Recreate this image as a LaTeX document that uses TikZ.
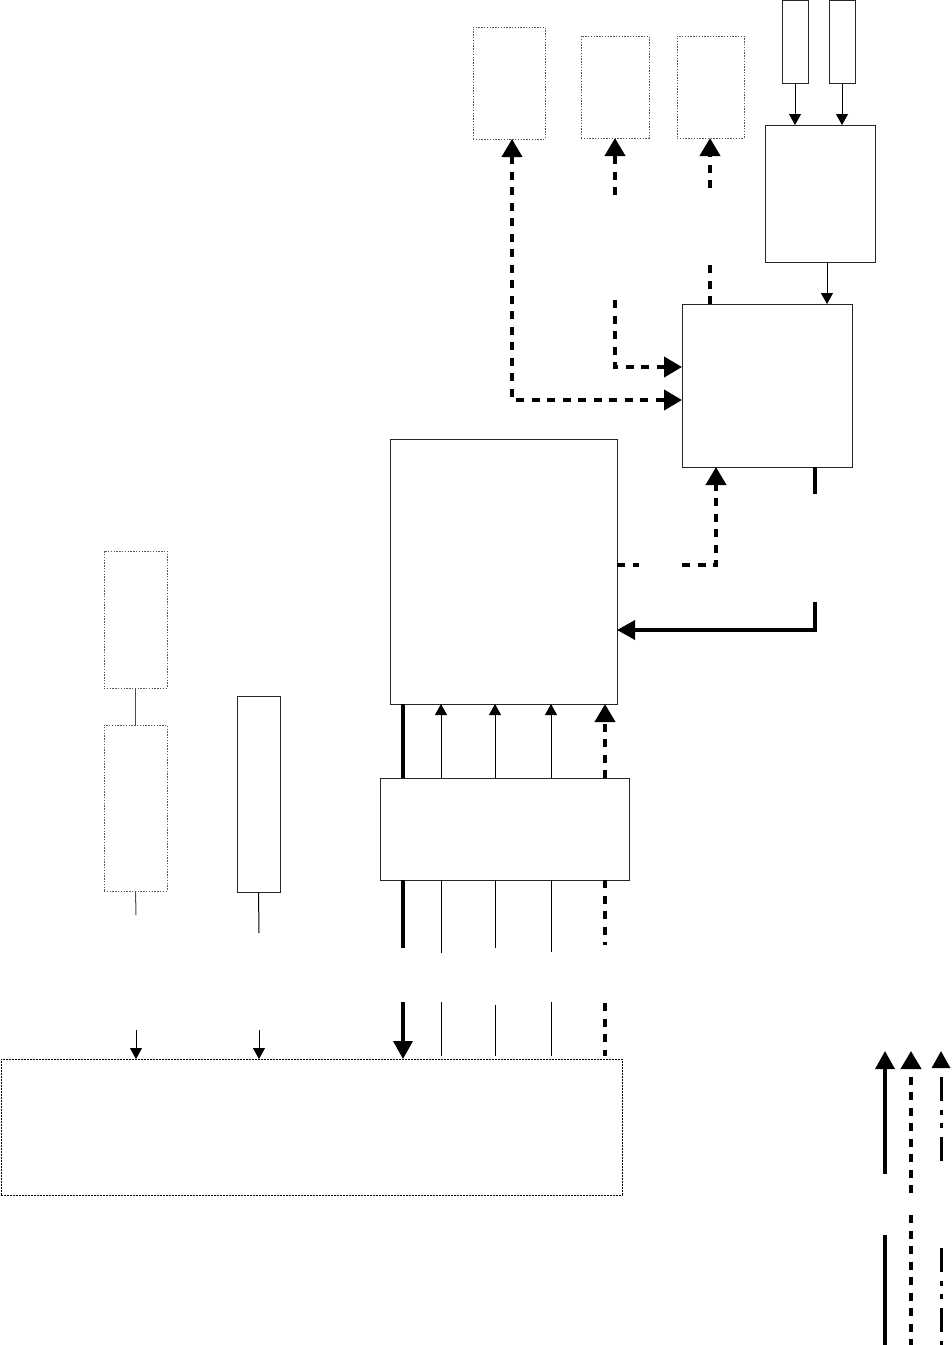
\documentclass[tikz,border=0pt]{standalone}
\usetikzlibrary{arrows.meta}
\tikzset{
 dotbox/.style={draw=black!65, line width=1pt, dash pattern=on 1.4pt off 1.4pt, inner sep=0pt, outer sep=0pt, anchor=north west},
 dotboxk/.style={draw=black, line width=1pt, dash pattern=on 1.6pt off 1.4pt, inner sep=0pt, outer sep=0pt, anchor=north west},
 solbox/.style={draw=black!85, line width=1pt, inner sep=0pt, outer sep=0pt, anchor=north west},
 thinline/.style={line width=1pt},
 thinarrow/.style={thinline, -{Triangle[width=12pt,length=11pt]}},
 thkdash/.style={line width=4pt, dash pattern=on 8pt off 7.5pt},
 thkdasharrow/.style={thkdash, -{Triangle[width=20pt,length=18pt]}},
 thksolid/.style={line width=3.5pt},
 thksolidarrow/.style={thksolid, -{Triangle[width=19pt,length=18pt]}},
 ddot/.style={line width=3pt, dash pattern=on 24pt off 9pt on 5pt off 8pt on 5pt off 9pt},
 ddotarrow/.style={ddot, -{Triangle[width=18pt,length=17pt]}},
}
\begin{document}
\begin{tikzpicture}[x=1pt,y=-1pt]
\useasboundingbox (0,0) rectangle (952,1345);

% boxes
\node[dotbox, minimum width=72pt, minimum height=112pt] (A) at (473,27) {};
\node[dotbox, minimum width=68pt, minimum height=102pt] (B) at (581,36) {};
\node[dotbox, minimum width=67pt, minimum height=102pt] (C) at (677,36) {};
\node[solbox, minimum width=26pt, minimum height=83pt] (D1) at (782,0.5) {};
\node[solbox, minimum width=26pt, minimum height=83pt] (D2) at (829,0.5) {};
\node[solbox, minimum width=110pt, minimum height=137pt] (E) at (765,125) {};
\node[solbox, minimum width=170pt, minimum height=163pt] (F) at (682,304) {};
\node[solbox, minimum width=227pt, minimum height=265pt] (G) at (390,439) {};
\node[solbox, minimum width=249pt, minimum height=102pt] (H) at (380,778) {};
\node[dotboxk, minimum width=621pt, minimum height=136pt] (I) at (1,1059) {};
\node[dotbox, minimum width=63pt, minimum height=137pt] (J1) at (104,551) {};
\node[dotbox, minimum width=63pt, minimum height=166pt] (J2) at (104,725) {};
\node[solbox, minimum width=43pt, minimum height=196pt] (K) at (237,696) {};

% free ends
\coordinate (c1) at (710,263);
\coordinate (c2) at (710,188);
\coordinate (c3) at (615,195);
\coordinate (c4) at (615,300);
\coordinate (c5) at (639,565);
\coordinate (c6) at (682,565);
\coordinate (c7) at (815,494);
\coordinate (c8) at (815,602);
\coordinate (h1a) at (403,948);  \coordinate (h1b) at (403,1002);
\coordinate (h2a) at (441,953);  \coordinate (h2b) at (441,1002);
\coordinate (h3a) at (495,948);  \coordinate (h3b) at (495,1005);
\coordinate (h4a) at (551,952);  \coordinate (h4b) at (551,1002);
\coordinate (h5a) at (605,945);  \coordinate (h5b) at (605,1003);
\coordinate (j1) at (136,915);   \coordinate (j2) at (136,1030);
\coordinate (k1) at (259,933);   \coordinate (k2) at (259,1030);
\coordinate (L1a) at (885,1174); \coordinate (L1t) at (885,1051);
\coordinate (L1b) at (885,1235); \coordinate (L1e) at (885,1345);
\coordinate (L2a) at (911,1193); \coordinate (L2t) at (911,1051);
\coordinate (L2b) at (911,1215); \coordinate (L2e) at (911,1345);
\coordinate (L3a) at (941,1161); \coordinate (L3t) at (941,1051);
\coordinate (L3b) at (941,1248); \coordinate (L3e) at (941,1345);

% top right
\draw[thinarrow] (D1.south) -- (D1.south |- E.north);
\draw[thinarrow] (D2.south) -- (D2.south |- E.north);
\draw[thinarrow] (827,0 |- E.south) -- (827,0 |- F.north);
\draw[thkdash] (c1 |- F.north) -- (c1);
\draw[thkdasharrow] (c2) -- (c2 |- C.south);
\draw[thkdasharrow] (c3) -- (c3 |- B.south);
\draw[thkdash, {Triangle[width=20pt,length=18pt]}-{Triangle[width=20pt,length=18pt]}]
  (512,0 |- A.south) -- (512,400) -- (F.west |- 0,400);
\draw[thkdasharrow] (c4) -- (615,367) -- (F.west |- 0,367);

% between G and F
\draw[thkdash] (G.east |- c5) -- (c5);
\draw[thkdasharrow] (c6) -- (716,565) -- (716,0 |- F.south);
\draw[thksolid] (815,0 |- F.south) -- (c7);
\draw[thksolidarrow] (c8) -- (815,630) -- (G.east |- 0,630);

% H to G
\draw[thksolid] (403,0 |- H.north) -- (403,0 |- G.south);
\draw[thinarrow] (441,0 |- H.north) -- (441,0 |- G.south);
\draw[thinarrow] (495,0 |- H.north) -- (495,0 |- G.south);
\draw[thinarrow] (551,0 |- H.north) -- (551,0 |- G.south);
\draw[thkdasharrow] (605,0 |- H.north) -- (605,0 |- G.south);

% H to I
\draw[thksolid] (h1a |- H.south) -- (h1a);
\draw[thksolidarrow] (h1b) -- (h1b |- I.north);
\draw[thinline] (h2a |- H.south) -- (h2a);
\draw[thinline] (h2b) -- ([yshift=3pt]h2b |- I.north);
\draw[thinline] (h3a |- H.south) -- (h3a);
\draw[thinline] (h3b) -- ([yshift=3pt]h3b |- I.north);
\draw[thinline] (h4a |- H.south) -- (h4a);
\draw[thinline] (h4b) -- ([yshift=3pt]h4b |- I.north);
\draw[thkdash] (h5a |- H.south) -- (h5a);
\draw[thkdash] (h5b) -- ([yshift=3pt]h5b |- I.north);

% left
\draw[thinline, draw=black!70] (J1.south) -- (J2.north);
\draw[thinline, draw=black!70] (J2.south) -- (j1);
\draw[thinarrow] (j2) -- (j2 |- I.north);
\draw[thinline] (K.south) -- (k1);
\draw[thinarrow] (k2) -- (k2 |- I.north);

% legend
\draw[thksolidarrow] (L1a) -- (L1t);
\draw[thksolid] (L1b) -- (L1e);
\draw[thkdasharrow] (L2a) -- (L2t);
\draw[thkdash] (L2b) -- (L2e);
\draw[ddotarrow] (L3a) -- (L3t);
\draw[ddot] (L3b) -- (L3e);
\end{tikzpicture}
\end{document}
